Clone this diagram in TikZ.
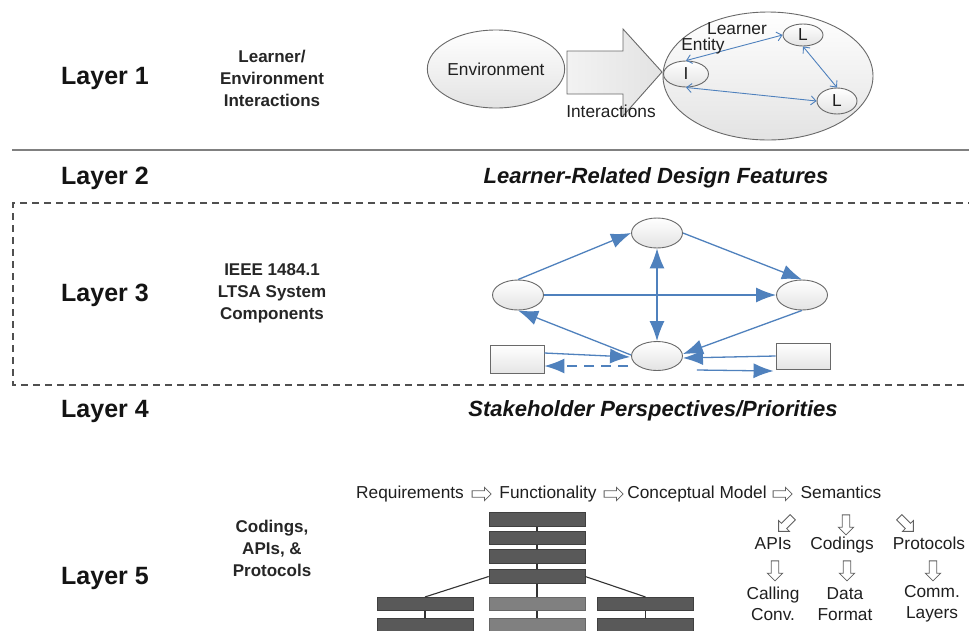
\documentclass[tikz,border=0pt]{standalone}
\usepackage{fontspec}
\setmainfont{Liberation Sans}
\usetikzlibrary{shapes.geometric,shapes.arrows,arrows.meta,calc}
\definecolor{lblue}{RGB}{79,129,189}
\definecolor{ebord}{RGB}{105,105,105}
\definecolor{boxdark}{RGB}{89,89,89}
\definecolor{boxmid}{RGB}{128,128,128}
\definecolor{linegray}{RGB}{128,128,128}
\definecolor{dashgray}{RGB}{80,80,80}
\begin{document}
\begin{tikzpicture}[x=1pt,y=-1pt,
  layerlbl/.style={font=\fontsize{25}{28}\selectfont\bfseries, text=black!92, inner sep=0pt},
  sidelbl/.style={font=\fontsize{17}{22}\selectfont\bfseries, align=center, text=black!85, inner sep=0pt},
  heading/.style={font=\fontsize{22}{26}\selectfont\bfseries\itshape, text=black!92, inner sep=0pt},
  txtbase/.style={font=\fontsize{17.3}{21}\selectfont, text=black!88, inner sep=0pt, align=center},
  txt/.style={txtbase, text height=12.5pt, text depth=3.6pt},
  oval/.style={ellipse, draw=ebord, line width=0.9pt, top color=white, bottom color=gray!22, inner sep=0pt,
    font=\fontsize{17.3}{20}\selectfont, text=black!88},
  sbox/.style={rectangle, draw=ebord, line width=0.9pt, top color=white, bottom color=gray!20, inner sep=0pt},
  bigarrow/.style={draw=ebord, line width=0.9pt, left color=gray!10, right color=gray!22},
  sepline/.style={draw=linegray, line width=2pt},
  dashsep/.style={draw=dashgray, line width=2.5pt, dash pattern=on 7pt off 5pt},
  lonearr/.style={draw=lblue, line width=0.9pt, {Straight Barb[length=5pt,width=9pt]}-{Straight Barb[length=5pt,width=9pt]}},
  lthrarr/.style={draw=lblue, line width=1.3pt, -{Latex[length=20pt,width=15pt]}},
  blk/.style={rectangle, draw=black!75, fill=boxdark, line width=0.6pt, minimum width=96pt, minimum height=13.5pt, inner sep=0pt},
  blkmid/.style={rectangle, draw=black!60, fill=boxmid, line width=0.6pt, minimum width=96pt, minimum height=13.5pt, inner sep=0pt},
  blkline/.style={draw=black!80, line width=1.1pt},
  harrow/.style={single arrow, draw=gray!75!black, fill=white, line width=0.8pt, minimum height=19pt,
    single arrow head extend=3.5pt, inner sep=2.8pt, single arrow head indent=0pt},
  varrow/.style={single arrow, draw=gray!75!black, fill=white, line width=0.8pt, minimum height=20pt,
    single arrow head extend=4pt, inner sep=3.3pt, single arrow head indent=0pt}
]
\useasboundingbox (0,0) rectangle (969,630);
\fill[white] (0,0) rectangle (969,630);
\clip (0,0) rectangle (969,630);

% separators
\draw[sepline] (12,150) -- (969,150);
\draw[dashsep] (975,203) -- (13,203) -- (13,385) -- (975,385);

% layer labels
\node[layerlbl] (lay1) at (105,78) {Layer 1};
\node[layerlbl] (lay2) at (105,178) {Layer 2};
\node[layerlbl] (lay3) at (105,295) {Layer 3};
\node[layerlbl] (lay4) at (105,411) {Layer 4};
\node[layerlbl] (lay5) at (105,578) {Layer 5};

\node[sidelbl] (side1) at (272,78) {Learner/\\Environment\\Interactions};
\node[sidelbl] (side3) at (272,293) {IEEE 1484.1\\LTSA System\\Components};
\node[sidelbl] (side5) at (272,548) {Codings,\\APIs, \&\\Protocols};

\node[heading] (head2) at (656,178) {Learner-Related Design Features};
\node[heading] (head4) at (653,411) {Stakeholder Perspectives/Priorities};

% ---------- layer 1
\node[oval, minimum width=137pt, minimum height=78pt] (env) at (496,69) {Environment};
\draw[bigarrow] (567,51) -- (623,51) -- (623,29) -- (662,72) -- (623,116) -- (623,94) -- (567,94) -- cycle;
\node[txt] (inter) at (611,113) {Interactions};
\node[oval, minimum width=210pt, minimum height=128pt] (ent) at (768,76) {};
\node[oval, minimum width=45pt, minimum height=26pt] (li) at (686,74) {I};
\node[oval, minimum width=40pt, minimum height=22pt] (la) at (803,35) {L};
\node[oval, minimum width=40pt, minimum height=26pt] (lb) at (837,101) {L};
\draw[lonearr] (li.north) -- (la.west);
\draw[lonearr] (li.south) -- (lb.west);
\draw[lonearr] (la.south) -- (lb.north);
\node[txt] (learner) at (737,30) {Learner};
\node[txt] (entity) at (703,46) {Entity};

% ---------- layer 3
\node[oval, minimum width=51pt, minimum height=30pt] (ct) at (657,233) {};
\node[oval, minimum width=51pt, minimum height=30pt] (cl) at (518,295) {};
\node[oval, minimum width=51pt, minimum height=30pt] (cr) at (802,295) {};
\node[oval, minimum width=51pt, minimum height=29pt] (cb) at (657,356) {};
\node[sbox, minimum width=54pt, minimum height=28pt] (bl) at (517,359) {};
\node[sbox, minimum width=54pt, minimum height=26pt] (br) at (803,356) {};

\draw[lthrarr] (cl.north) -- (ct.west);
\draw[lthrarr] (ct.east) -- (cr.north);
\draw[lthrarr] (cl.east) -- (cr.west);
\draw[lthrarr, {Latex[length=20pt,width=15pt]}-{Latex[length=20pt,width=15pt]}] (ct.south) -- (cb.north);
\draw[lthrarr] (cr.south) -- ([yshift=2pt]cb.east);
\draw[lthrarr] ([yshift=1pt]cb.west) -- (cl.south);
\draw[lthrarr] ([yshift=6pt]bl.east) -- ([xshift=-1pt,yshift=-1pt]cb.west);
\draw[lthrarr, dash pattern=on 10pt off 7pt] ([xshift=-3pt,yshift=-10pt]cb.west) -- ([yshift=-7pt]bl.east);
\draw[lthrarr] (br.west) -- ([yshift=-2pt]cb.east);
\draw[lthrarr] ([xshift=14pt,yshift=-14pt]cb.east) -- ([xshift=-2pt,yshift=-15pt]br.west);

% ---------- layer 5
\node[txt] (req) at (410,494) {Requirements};
\node[harrow] (a1) at (480,494) {};
\node[txt] (fun) at (548,494) {Functionality};
\node[harrow] (a2) at (612,494) {};
\node[txt] (con) at (697,494) {Conceptual Model};
\node[harrow] (a3) at (781,494) {};
\node[txt] (sem) at (841,494) {Semantics};

\node[varrow, rotate=-135] (d1) at (787,523) {};
\node[varrow, rotate=-90] (d2) at (846,523) {};
\node[varrow, rotate=-45] (d3) at (905,523) {};

\node[txt] (apis) at (773,545) {APIs};
\node[txt] (cods) at (842,545) {Codings};
\node[txt] (prot) at (929,545) {Protocols};

\node[varrow, rotate=-90] (e1) at (775,569) {};
\node[varrow, rotate=-90] (e2) at (847,569) {};
\node[varrow, rotate=-90] (e3) at (933,569) {};

\node[txtbase] (call) at (773,604) {Calling\\Conv.};
\node[txtbase] (data) at (845,604) {Data\\Format};
\node[txtbase] (comm) at (932,604) {Comm.\\Layers};

% block hierarchy
\node[blk] (b1) at (537,519.5) {};
\node[blk] (b2) at (537,538) {};
\node[blk] (b3) at (537,556.5) {};
\node[blk] (b4) at (537,576.5) {};
\node[blk] (l1) at (425,604) {};
\node[blk] (l2) at (425,625) {};
\node[blkmid] (m1) at (537,604) {};
\node[blkmid] (m2) at (537,625) {};
\node[blk] (r1) at (645.5,604) {};
\node[blk] (r2) at (645.5,625) {};

\draw[blkline] (b1.south) -- (b2.north);
\draw[blkline] (b2.south) -- (b3.north);
\draw[blkline] (b3.south) -- (b4.north);
\draw[blkline] (b4.west) -- (l1.north);
\draw[blkline] (b4.east) -- (r1.north);
\draw[blkline] (b4.south) -- (m1.north);
\draw[blkline] (l1.south) -- (l2.north);
\draw[blkline] (m1.south) -- (m2.north);
\draw[blkline] (r1.south) -- (r2.north);
\end{tikzpicture}
\end{document}
